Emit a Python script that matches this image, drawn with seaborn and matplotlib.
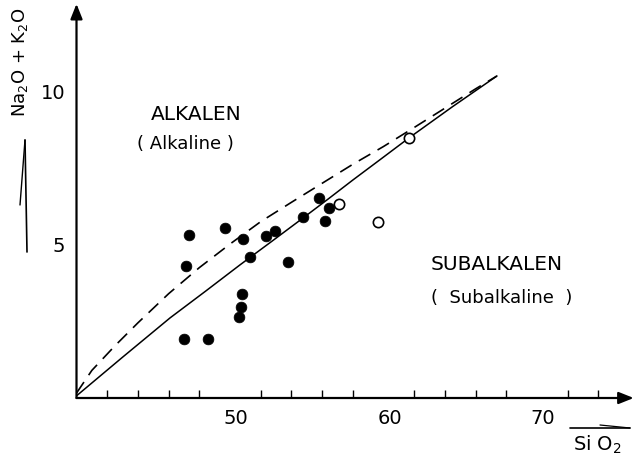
import matplotlib
matplotlib.use("Agg")
import matplotlib.pyplot as plt
import matplotlib.transforms as mtransforms
from matplotlib.lines import Line2D
import seaborn as sns
import pandas as pd

# ---- data ----
filled_sio2 = [47.35, 49.67, 47.11, 50.87, 51.30, 52.35, 52.91, 53.80, 54.76, 55.82,
               56.47, 56.19, 50.80, 50.70, 50.59, 47.00, 48.57]
filled_alk = [5.30, 5.54, 4.29, 5.19, 4.60, 5.28, 5.45, 4.43, 5.90, 6.53,
              6.20, 5.76, 3.38, 2.96, 2.65, 1.91, 1.93]
open_sio2 = [57.10, 59.66, 61.66]
open_alk = [6.34, 5.74, 8.47]

solid_sio2 = [40.0, 43.0, 46.09, 48.4, 50.65, 52.7, 54.76, 56.4, 58.01, 59.8, 61.66, 64.5, 67.39]
solid_alk = [0.07, 1.33, 2.61, 3.48, 4.34, 5.10, 5.87, 6.49, 7.11, 7.78, 8.48, 9.50, 10.50]
dashed_sio2 = [40.0, 41.0, 42.5, 44.0, 46.0, 48.0, 50.0, 52.0, 54.0, 56.0, 58.0, 60.0,
               62.0, 64.0, 66.0, 67.39]
dashed_alk = [0.16, 0.90, 1.70, 2.45, 3.40, 4.25, 5.02, 5.75, 6.38, 7.00, 7.62, 8.20,
              8.82, 9.45, 10.08, 10.50]

x_major = [50, 60, 70]
x_minor = [42, 44, 46, 48, 52, 54, 56, 58, 62, 64, 66, 68, 72, 74]
y_ticks = [1, 2, 3, 4, 5, 6, 7, 8, 9, 10]
y_ticklabels = ["", "", "", "", "5", "", "", "", "", "10"]

sns.set_style("white")
plt.rcParams["font.family"] = ["DejaVu Sans"]
plt.rcParams["text.color"] = "black"
plt.rcParams["xtick.color"] = "black"
plt.rcParams["ytick.color"] = "black"

W, H = 639, 466
fig = plt.figure(figsize=(W / 100, H / 100), dpi=100)
x0, x1 = 40.0, 76.3
y0, y1 = 0.0, 12.85
left_px, right_px = 76.5, 633.7
bottom_px, top_px = 398.0, 3.9
ax = fig.add_axes([left_px / W, (H - bottom_px) / H,
                   (right_px - left_px) / W, (bottom_px - top_px) / H])

df_f = pd.DataFrame({"SiO2": filled_sio2, "alk": filled_alk})
df_o = pd.DataFrame({"SiO2": open_sio2, "alk": open_alk})
df_s = pd.DataFrame({"SiO2": solid_sio2, "alk": solid_alk})
df_d = pd.DataFrame({"SiO2": dashed_sio2, "alk": dashed_alk})

sns.lineplot(data=df_s, x="SiO2", y="alk", ax=ax, color="black", lw=1.1,
             sort=False, estimator=None)
sns.lineplot(data=df_d, x="SiO2", y="alk", ax=ax, color="black", lw=1.2,
             sort=False, estimator=None, linestyle=(0, (8, 5)))
sns.scatterplot(data=df_f, x="SiO2", y="alk", ax=ax, color="black", s=60,
                edgecolor="black", linewidth=0.5, zorder=5)
sns.scatterplot(data=df_o, x="SiO2", y="alk", ax=ax, facecolor="white", s=55,
                edgecolor="black", linewidth=1.2, zorder=5)

ax.set_xlim(x0, x1)
ax.set_ylim(y0, y1)
for sp in ax.spines.values():
    sp.set_visible(False)

# axes with arrows
ap = dict(arrowstyle="-|>,head_length=0.5,head_width=0.2", lw=1.6, color="black",
          mutation_scale=18, shrinkA=0, shrinkB=0)
ax.annotate("", xy=(x1, 0), xytext=(x0, 0), arrowprops=ap, annotation_clip=False)
ax.annotate("", xy=(x0, y1), xytext=(x0, 0), arrowprops=ap, annotation_clip=False)

ax.set_xticks(x_major)
ax.set_xticklabels([str(v) for v in x_major])
ax.set_xticks(x_minor, minor=True)
ax.set_yticks(y_ticks)
ax.set_yticklabels(y_ticklabels)
ax.tick_params(axis="x", which="major", direction="in", length=12, width=1.0,
               labelsize=14, pad=8, colors="black")
ax.tick_params(axis="x", which="minor", direction="in", length=6, width=1.0,
               bottom=True, colors="black")
ax.tick_params(axis="y", which="major", direction="in", length=9, width=1.0,
               labelsize=14, pad=8, colors="black")
offset = mtransforms.ScaledTranslation(6 / 100, 0, fig.dpi_scale_trans)
for lbl in ax.get_xticklabels():
    lbl.set_transform(lbl.get_transform() + offset)
ax.set_xlabel("")
ax.set_ylabel("")

# region labels
ax.text(47.78, 9.26, "ALKALEN", ha="center", va="center", fontsize=14.5, color="black")
ax.text(47.07, 8.28, "( Alkaline )", ha="center", va="center", fontsize=13, color="black")
ax.text(67.39, 4.34, "SUBALKALEN", ha="center", va="center", fontsize=14.5, color="black")
ax.text(67.72, 3.26, "(  Subalkaline  )", ha="center", va="center", fontsize=13, color="black")

def fx(px):
    return px / W

def fy(py):
    return 1 - py / H

# axis titles with arrows
fig.text(fx(20), fy(62), r"Na$_2$O + K$_2$O", rotation=90, ha="center",
         va="center", fontsize=13, color="black")
fig.add_artist(Line2D([fx(27), fx(25)], [fy(252), fy(140)], color="black", lw=1.2))
fig.add_artist(Line2D([fx(25), fx(20)], [fy(140), fy(205)], color="black", lw=1.0))

fig.text(fx(597), fy(445), r"Si O$_2$", ha="center", va="center", fontsize=14, color="black")
fig.add_artist(Line2D([fx(570), fx(630)], [fy(428), fy(428)], color="black", lw=1.2))
fig.add_artist(Line2D([fx(630), fx(600)], [fy(428), fy(425)], color="black", lw=0.9))

fig.savefig("out.png", dpi=100, facecolor="white")
